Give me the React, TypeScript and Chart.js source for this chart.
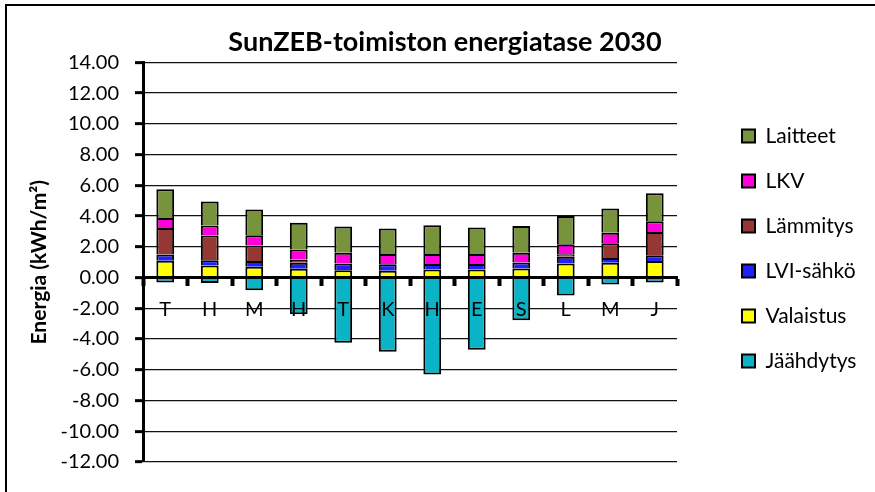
import React, { useEffect, useRef } from 'react';
import { Chart, registerables } from 'chart.js';

Chart.register(...registerables);

const months = ['T', 'H', 'M', 'H', 'T', 'K', 'H', 'E', 'S', 'L', 'M', 'J'];
const jaahdytys = [-0.32, -0.36, -0.82, -2.38, -4.24, -4.83, -6.3, -4.7, -2.77, -1.16, -0.45, -0.32];
const valaistus = [1.09, 0.79, 0.7, 0.57, 0.48, 0.45, 0.53, 0.53, 0.59, 0.92, 0.96, 1.07];
const lviSahko = [0.41, 0.34, 0.37, 0.39, 0.44, 0.42, 0.36, 0.36, 0.39, 0.43, 0.32, 0.39];
const lammitys = [1.73, 1.61, 1.02, 0.22, 0, 0, 0, 0, 0, 0.17, 0.96, 1.51];
const lkv = [0.65, 0.65, 0.67, 0.65, 0.69, 0.67, 0.65, 0.65, 0.63, 0.65, 0.67, 0.7];
const laitteet = [1.87, 1.56, 1.67, 1.73, 1.71, 1.65, 1.87, 1.72, 1.75, 1.84, 1.58, 1.82];

const yMin = -12;
const yMax = 14;
const yStep = 2;

const FONT = 'Lato, Carlito, Calibri, "Noto Sans", sans-serif';

export default function App() {
  const ref = useRef<HTMLCanvasElement | null>(null);

  useEffect(() => {
    document.body.style.margin = '0';
    const canvas = ref.current;
    if (!canvas) return;
    const mk = (label: string, data: number[], color: string) => ({
      label,
      data,
      backgroundColor: color,
      borderColor: '#000',
      borderWidth: 2,
      categoryPercentage: 1,
      barPercentage: 0.4,
    });
    const chart = new Chart(canvas, {
      type: 'bar',
      data: {
        labels: months,
        datasets: [
          mk('Jäähdytys', jaahdytys, '#0BB3C6'),
          mk('Valaistus', valaistus, '#FFFF00'),
          mk('LVI-sähkö', lviSahko, '#2020FF'),
          mk('Lämmitys', lammitys, '#953735'),
          mk('LKV', lkv, '#FF00D8'),
          mk('Laitteet', laitteet, '#77933C'),
        ],
      },
      options: {
        responsive: false,
        animation: false,
        devicePixelRatio: 1,
        layout: { padding: { left: 32, right: 17, top: 0, bottom: 30 } },
        scales: {
          x: {
            type: 'category',
            position: { y: 0 } as any,
            stacked: true,
            offset: true,
            z: 1,
            grid: {
              display: true,
              drawOnChartArea: false,
              drawTicks: true,
              tickLength: 7,
              tickWidth: 4,
              tickColor: '#000',
              offset: true,
              z: 1,
            },
            border: { display: true, color: '#000', width: 3, z: 1 },
            ticks: {
              color: '#000',
              font: { family: FONT, size: 20 },
              padding: 13,
              maxRotation: 0,
              autoSkip: false,
              z: 1,
            },
          },
          y: {
            type: 'linear',
            position: 'left',
            stacked: true,
            min: yMin,
            max: yMax,
            ticks: {
              stepSize: yStep,
              color: '#000',
              font: { family: FONT, size: 20 },
              padding: 16,
              callback: (v: any) => Number(v).toFixed(2),
            },
            grid: {
              color: '#111',
              lineWidth: 1.3,
              tickLength: 8,
              tickWidth: 3,
              tickColor: '#000',
            },
            border: { display: true, color: '#000', width: 3 },
            title: {
              display: true,
              text: 'Energia (kWh/m²)',
              color: '#000',
              font: { family: FONT, size: 21, weight: 'bold' },
              padding: { top: -5, bottom: 0 },
            },
            afterFit: (s: any) => {
              s.width = 111;
            },
          },
          yPad: {
            type: 'linear',
            position: 'right',
            display: true,
            grid: { display: false, drawTicks: false },
            ticks: { display: false },
            border: { display: false },
            afterFit: (s: any) => {
              s.width = 41;
            },
          },
        },
        plugins: {
          title: {
            display: true,
            text: 'SunZEB-toimiston energiatase 2030',
            color: '#000',
            font: { family: FONT, size: 27, weight: 'bold' },
            padding: { top: 26, bottom: 4 },
          },
          legend: {
            position: 'right',
            reverse: true,
            align: 'center',
            maxWidth: 140,
            title: {
              display: true,
              text: ' ',
              font: { size: 10 },
              padding: { top: 0, bottom: 23 },
            },
            labels: {
              boxWidth: 13,
              boxHeight: 13,
              padding: 24,
              color: '#000',
              font: { family: FONT, size: 21 },
            },
          },
          tooltip: { enabled: false },
        },
      } as any,
    });
    return () => chart.destroy();
  }, []);

  return (
    <div style={{ position: 'fixed', left: 0, top: 0, width: 875, height: 492, overflow: 'hidden', background: '#fff' }}>
      <div
        style={{
          position: 'absolute',
          left: 5,
          top: 4,
          width: 900,
          height: 520,
          borderLeft: '2px solid #000',
          borderTop: '2px solid #000',
        }}
      />
      <canvas ref={ref} width={875} height={492} style={{ position: 'absolute', left: 0, top: 0 }} />
    </div>
  );
}
